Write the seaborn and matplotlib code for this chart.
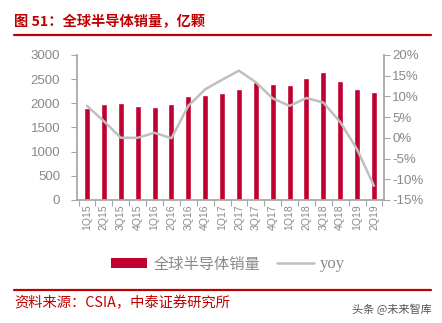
import numpy as np
import pandas as pd
import matplotlib
matplotlib.use("Agg")
import matplotlib.pyplot as plt
from matplotlib.lines import Line2D
from matplotlib.patches import Patch
import seaborn as sns

quarters = ["1Q15", "2Q15", "3Q15", "4Q15", "1Q16", "2Q16", "3Q16", "4Q16",
            "1Q17", "2Q17", "3Q17", "4Q17", "1Q18", "2Q18", "3Q18", "4Q18",
            "1Q19", "2Q19"]
volume = [1910, 1990, 2000, 1950, 1930, 1990, 2160, 2180,
          2210, 2300, 2440, 2390, 2370, 2530, 2655, 2470,
          2285, 2240]
yoy = [7.7, 4.0, 0.0, 0.0, 1.2, -0.1, 7.7, 11.7,
       14.0, 16.2, 13.4, 9.5, 7.7, 9.6, 8.5, 3.8,
       -2.8, -11.6]

sns.set_theme(style="white")
plt.rcParams["font.family"] = ["Noto Sans CJK SC", "DejaVu Sans"]

RED = "#C0002F"
GRAY_LINE = "#BFBFBF"
TICK = "#898989"
TITLE_RED = "#C00000"
LATIN = ["Liberation Sans", "DejaVu Sans"]

df = pd.DataFrame({"quarter": quarters, "volume": volume, "yoy": yoy})

fig = plt.figure(figsize=(4.42, 3.23), dpi=100)
ax = fig.add_axes([0.174, 0.381, 0.695, 0.449])

sns.barplot(data=df, x="quarter", y="volume", color=RED, width=0.36,
            saturation=1, ax=ax)
ax.set_ylim(0, 3000)
ax.set_yticks(np.arange(0, 3001, 500))
ax.set_xlim(-0.6, len(quarters) - 0.4)
ax.set_xlabel("")
ax.set_ylabel("")

ax2 = ax.twinx()
sns.lineplot(x=np.arange(len(quarters)), y=df["yoy"], color=GRAY_LINE,
             linewidth=1.8, ax=ax2)
ax2.set_ylim(-15, 20)
ax2.set_yticks(np.arange(-15, 21, 5))
ax2.set_yticklabels([f"{v}%" for v in range(-15, 21, 5)])
ax2.set_ylabel("")

for a in (ax, ax2):
    for s in a.spines.values():
        s.set_visible(False)
ax.spines["left"].set_visible(True)
ax.spines["left"].set_color("#A6A6A6")
ax.spines["bottom"].set_visible(True)
ax.spines["bottom"].set_color("#A6A6A6")
ax2.spines["right"].set_visible(True)
ax2.spines["right"].set_color("#A6A6A6")

ax.tick_params(axis="y", left=True, length=4, width=0.8, color="#A6A6A6",
               labelsize=9.5, labelcolor=TICK, pad=8)
ax.tick_params(axis="x", bottom=True, length=0, labelsize=7.5,
               labelcolor=TICK, pad=3)
ax.set_xticks(np.arange(len(quarters)))
ax.set_xticklabels(quarters, rotation=90)
ax.set_xticks(np.arange(-0.5, len(quarters), 1), minor=True)
ax.tick_params(axis="x", which="minor", bottom=True, length=4, width=0.8,
               color="#A6A6A6")
ax2.tick_params(axis="y", right=True, length=4, width=0.8, color="#A6A6A6",
                labelsize=9.5, labelcolor=TICK, pad=2)
for lbl in ax.get_yticklabels() + ax2.get_yticklabels() + ax.get_xticklabels():
    lbl.set_fontfamily(LATIN)

# title and rules
fig.text(14 / 442, 1 - 22 / 323, "图 51：全球半导体销量，亿颗", color=TITLE_RED,
         fontsize=10.3, fontweight="bold", va="center", ha="left")
fig.add_artist(Line2D([14 / 442, 431 / 442], [1 - 35 / 323, 1 - 35 / 323],
                      color=TITLE_RED, linewidth=1.6))
fig.add_artist(Line2D([14 / 442, 431 / 442], [1 - 290 / 323, 1 - 290 / 323],
                      color=TITLE_RED, linewidth=1.6))
fig.text(14 / 442, 1 - 303 / 323, "资料来源：CSIA，中泰证券研究所", color=TITLE_RED,
         fontsize=10.3, va="center", ha="left")
fig.text(432 / 442, 1 - 309 / 323, "头条 @未来智库", color="#555555",
         fontsize=8, va="center", ha="right")

handles = [Patch(facecolor=RED, edgecolor="none"),
           Line2D([0], [0], color=GRAY_LINE, linewidth=1.8)]
leg = fig.legend(handles, ["全球半导体销量", "yoy"], loc="center",
                 bbox_to_anchor=(0.515, 1 - 264 / 323), ncol=2, frameon=False,
                 fontsize=11, labelcolor=TICK, handlelength=2.4,
                 handleheight=0.6, columnspacing=1.1, handletextpad=0.4)
leg.get_texts()[1].set_fontfamily(["Liberation Serif", "DejaVu Serif"])
leg.get_texts()[1].set_fontsize(12)

fig.savefig("out.png", dpi=100)
